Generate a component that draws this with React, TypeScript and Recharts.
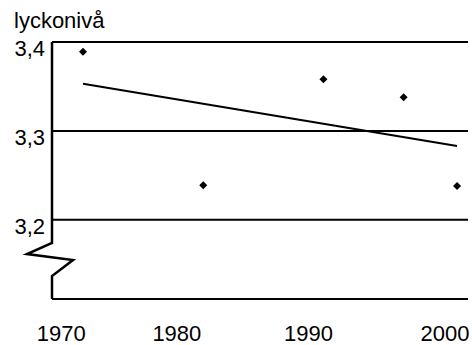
import React from 'react';
import { ComposedChart, Scatter, Line, XAxis, YAxis, CartesianGrid, Customized } from 'recharts';

const years = [1972, 1981, 1990, 1996, 2000];
const happiness = [3.389, 3.239, 3.358, 3.338, 3.238];
const trendYears = [1972, 2000];
const trendValues = [3.353, 3.283];
const yTicks = [3.2, 3.3, 3.4];
const yTickLabels = ['3,2', '3,3', '3,4'];
const xTicks = [1970, 1980, 1990, 2000];
const xTickLabels = ['1970', '1980', '1990', '2000'];
const yTitle = 'lyckonivå';

const points = years.map((y, i) => ({ year: y, value: happiness[i] }));
const trend = trendYears.map((y, i) => ({ year: y, trend: trendValues[i] }));

const FONT = '"Liberation Sans", Arial, sans-serif';
const W = 472;
const H = 345;
const M = { top: 42, right: 4, bottom: 0, left: 0 };
const Y_AXIS_W = 52;
const X_AXIS_H = 46;
const xLabelShift = [5, -13, -15, -12];

const Diamond = (props: any) => {
  const { cx, cy } = props;
  const r = 4;
  return <path d={`M${cx},${cy - r}L${cx + r},${cy}L${cx},${cy + r}L${cx - r},${cy}Z`} fill="#000" />;
};

const XTick = (props: any) => {
  const { x, y, payload, index } = props;
  const i = xTicks.indexOf(payload.value);
  return (
    <text x={x + (xLabelShift[i] ?? 0)} y={y + 42} textAnchor="middle" fontSize={22} fontFamily={FONT} fill="#000">
      {xTickLabels[i]}
    </text>
  );
};

const YTick = (props: any) => {
  const { x, y, payload } = props;
  const i = yTicks.indexOf(payload.value);
  return (
    <text x={x} y={y + 14} textAnchor="end" fontSize={22} fontFamily={FONT} fill="#000">
      {yTickLabels[i]}
    </text>
  );
};

const Decor = () => {
  const left = M.left + Y_AXIS_W;
  const top = M.top;
  const bottom = H - M.bottom - X_AXIS_H;
  return (
    <g>
      <text x={14} y={28} fontSize={22} fontFamily={FONT} fill="#000">{yTitle}</text>
      <path
        d={`M${left},${top}L${left},${top + 201}L${left - 25},${top + 212}L${left + 21},${top + 218}L${left},${top + 234}L${left},${bottom}`}
        fill="none"
        stroke="#000"
        strokeWidth={2.5}
        strokeLinejoin="miter"
      />
    </g>
  );
};

export default function App() {
  return (
    <div style={{ position: 'absolute', left: 0, top: 0, background: '#fff' }}>
      <ComposedChart width={W} height={H} margin={M}>
        <CartesianGrid horizontal vertical={false} stroke="#000" strokeWidth={2} />
        <XAxis
          type="number"
          dataKey="year"
          domain={[1969.68, 2000.82]}
          ticks={xTicks}
          allowDataOverflow
          height={X_AXIS_H}
          tickLine={false}
          tickSize={0}
          tickMargin={0}
          axisLine={{ stroke: '#000', strokeWidth: 2 }}
          tick={<XTick />}
          interval={0}
        />
        <YAxis
          type="number"
          domain={[3.111, 3.4]}
          ticks={yTicks}
          allowDataOverflow
          width={Y_AXIS_W}
          axisLine={false}
          tickLine={false}
          tickSize={0}
          tickMargin={7}
          tick={<YTick />}
          interval={0}
        />
        <Scatter data={points} dataKey="value" shape={<Diamond />} isAnimationActive={false} />
        <Line data={trend} dataKey="trend" stroke="#000" strokeWidth={2} dot={false} activeDot={false} isAnimationActive={false} />
        <Customized component={Decor} />
      </ComposedChart>
    </div>
  );
}
